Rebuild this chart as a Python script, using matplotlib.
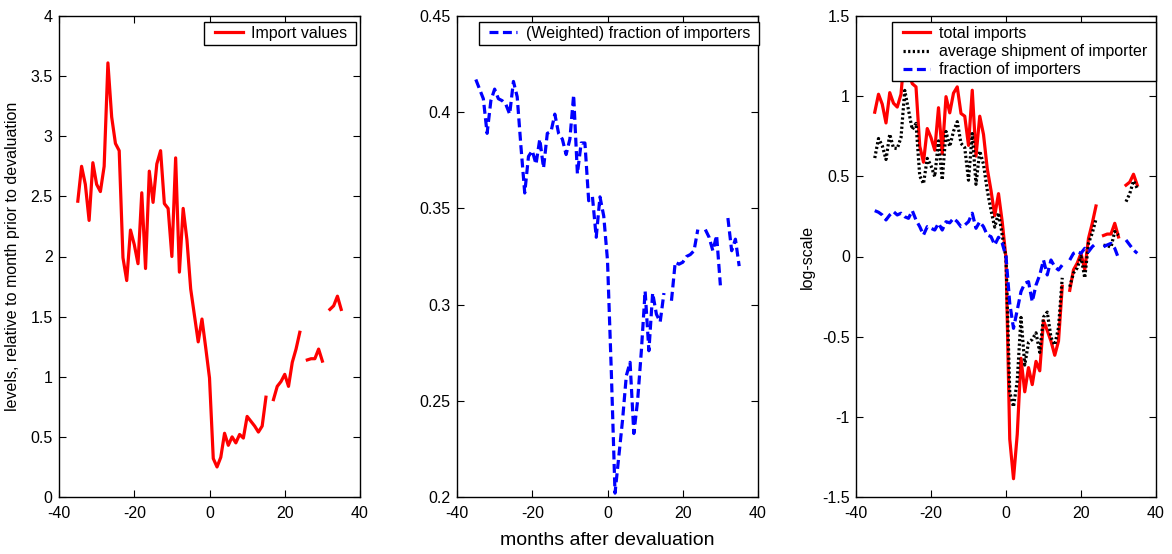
import numpy as np
import matplotlib
matplotlib.use("Agg")
import matplotlib.pyplot as plt
from matplotlib.ticker import FormatStrFormatter
from matplotlib.legend_handler import HandlerLine2D

plt.rcParams['font.family'] = ['Liberation Sans', 'DejaVu Sans']
plt.rcParams['axes.unicode_minus'] = False

nan = np.nan

# months relative to devaluation
months = list(range(-35, 36))

# panel 1: import values, relative to month prior to devaluation
import_values = [
    2.46, 2.75, 2.60, 2.30, 2.78, 2.60, 2.54, 2.75, 3.61, 3.16,
    2.94, 2.88, 1.99, 1.80, 2.22, 2.10, 1.94, 2.53, 1.90, 2.71,
    2.45, 2.77, 2.88, 2.44, 2.40, 2.00, 2.82, 1.87, 2.40, 2.14,
    1.73, 1.51, 1.29, 1.48, 1.24, 0.99, 0.32, 0.25, 0.33, 0.53,
    0.43, 0.50, 0.45, 0.52, 0.49, 0.67, 0.63, 0.59, 0.54, 0.59,
    0.83, nan, 0.81, 0.92, 0.96, 1.02, 0.92, 1.12, 1.23, 1.37,
    nan, 1.14, 1.15, 1.15, 1.23, 1.13, nan, 1.56, 1.59, 1.67,
    1.56,
]

# panel 2: (weighted) fraction of importers
weighted_fraction = [
    0.417, 0.412, 0.407, 0.389, 0.406, 0.412, 0.407, 0.406, 0.404, 0.399,
    0.416, 0.408, 0.382, 0.358, 0.377, 0.380, 0.373, 0.386, 0.371, 0.389,
    0.390, 0.399, 0.389, 0.386, 0.378, 0.386, 0.409, 0.368, 0.384, 0.384,
    0.354, 0.356, 0.335, 0.356, 0.346, 0.323, 0.266, 0.202, 0.221, 0.240,
    0.263, 0.270, 0.233, 0.250, 0.276, 0.307, 0.276, 0.306, 0.295, 0.291,
    0.306, nan, 0.302, 0.322, 0.321, 0.322, 0.325, 0.326, 0.328, 0.339,
    nan, 0.339, 0.335, 0.328, 0.336, 0.310, nan, 0.345, 0.328, 0.334,
    0.320,
]

# panel 3: log-scale decomposition
total_imports = [
    0.900, 1.012, 0.950, 0.833, 1.022, 0.956, 0.932, 1.012, 1.284, 1.151,
    1.078, 1.058, 0.688, 0.588, 0.798, 0.742, 0.663, 0.928, 0.642, 0.997,
    0.896, 1.019, 1.058, 0.892, 0.875, 0.693, 1.037, 0.626, 0.875, 0.761,
    0.548, 0.412, 0.255, 0.392, 0.215, -0.010, -1.139, -1.386, -1.109, -0.635,
    -0.844, -0.693, -0.799, -0.654, -0.713, -0.400, -0.462, -0.528, -0.616, -0.528,
    -0.186, nan, -0.211, -0.083, -0.041, 0.020, -0.083, 0.113, 0.207, 0.315,
    nan, 0.131, 0.140, 0.140, 0.207, 0.122, nan, 0.445, 0.464, 0.513,
    0.445,
]

avg_shipment = [
    0.614, 0.736, 0.691, 0.605, 0.763, 0.676, 0.673, 0.742, 1.036, 0.913,
    0.792, 0.830, 0.502, 0.454, 0.612, 0.566, 0.498, 0.721, 0.477, 0.780,
    0.686, 0.781, 0.841, 0.706, 0.679, 0.476, 0.767, 0.450, 0.658, 0.575,
    0.414, 0.288, 0.183, 0.272, 0.133, -0.010, -0.847, -0.938, -0.775, -0.380,
    -0.677, -0.536, -0.517, -0.476, -0.598, -0.378, -0.347, -0.506, -0.552, -0.444,
    -0.133, nan, -0.189, -0.103, -0.071, 0.000, -0.134, 0.083, 0.146, 0.233,
    nan, 0.070, 0.068, 0.058, 0.156, 0.133, nan, 0.342, 0.392, 0.472,
    0.425,
]

importer_fraction = [
    0.286, 0.276, 0.259, 0.228, 0.259, 0.280, 0.259, 0.270, 0.248, 0.238,
    0.286, 0.228, 0.186, 0.134, 0.186, 0.176, 0.165, 0.207, 0.165, 0.217,
    0.210, 0.238, 0.217, 0.186, 0.196, 0.217, 0.270, 0.176, 0.217, 0.186,
    0.134, 0.124, 0.072, 0.120, 0.082, 0.000, -0.292, -0.448, -0.334, -0.219,
    -0.167, -0.157, -0.282, -0.178, -0.115, -0.022, -0.115, -0.022, -0.064, -0.084,
    -0.053, nan, -0.022, 0.020, 0.030, 0.020, 0.051, 0.030, 0.061, 0.082,
    nan, 0.061, 0.072, 0.082, 0.051, -0.011, nan, 0.103, 0.072, 0.041,
    0.020,
]

FS = 11.5
DASH = (0, (2.8, 1.4))
DOT = (0, (0.7, 0.75))


def matlab_style(ax):
    ax.tick_params(direction='in', top=True, right=True, labelsize=FS,
                   length=5, width=0.8)
    ax.tick_params(axis='x', pad=6.5)
    ax.tick_params(axis='y', pad=4.5)
    for s in ax.spines.values():
        s.set_linewidth(1.0)
    ax.set_xlim(-40, 40)
    ax.set_xticks([-40, -20, 0, 20, 40])
    ax.yaxis.set_major_formatter(FormatStrFormatter('%g'))


W, H = 1172, 554
fig = plt.figure(figsize=(W / 100, H / 100), dpi=100)
ax1 = fig.add_axes([59 / W, (H - 497) / H, 301 / W, 481 / H])
ax2 = fig.add_axes([457 / W, (H - 497) / H, 301 / W, 481 / H])
ax3 = fig.add_axes([856 / W, (H - 497) / H, 300 / W, 481 / H])


def add_legend(ax, right_px):
    handles, labels = ax.get_legend_handles_labels()
    labels = [lab + ' ' for lab in labels]
    leg = ax.legend(handles, labels, loc='upper right',
                    bbox_to_anchor=(right_px / W, 1 - 22 / H),
                    bbox_transform=fig.transFigure, borderaxespad=0,
                    fancybox=False, framealpha=1, edgecolor='black', fontsize=FS,
                    numpoints=2, handlelength=2.55, borderpad=0.25,
                    labelspacing=0.2, handletextpad=0.15,
                    handler_map={h: HandlerLine2D(marker_pad=0.4) for h in handles})
    leg.get_frame().set_linewidth(1.0)
    return leg


# panel 1
ax1.plot(months, import_values, color='red', lw=2.3, label='Import values')
matlab_style(ax1)
ax1.set_ylim(0, 4)
ax1.set_yticks(np.arange(0, 4.01, 0.5))
ax1.set_ylabel('levels, relative to month prior to devaluation', fontsize=FS)
ax1.yaxis.set_label_coords((20 - 59) / 301, 0.5)
add_legend(ax1, 356)

# panel 2
ax2.plot(months, weighted_fraction, color='blue', lw=2.3, ls=DASH,
         label='(Weighted) fraction of importers')
matlab_style(ax2)
ax2.set_ylim(0.2, 0.45)
ax2.set_yticks(np.arange(0.2, 0.451, 0.05))
ax2.set_xlabel('months after devaluation', fontsize=14, labelpad=8)
add_legend(ax2, 759)

# panel 3
ax3.plot(months, total_imports, color='red', lw=2.3, label='total imports')
ax3.plot(months, avg_shipment, color='black', lw=2.3, ls=DOT,
         label='average shipment of importer')
ax3.plot(months, importer_fraction, color='blue', lw=2.3, ls=DASH,
         label='fraction of importers')
matlab_style(ax3)
ax3.set_ylim(-1.5, 1.5)
ax3.set_yticks(np.arange(-1.5, 1.51, 0.5))
ax3.set_ylabel('log-scale', fontsize=FS)
ax3.yaxis.set_label_coords((815 - 856) / 300, 0.5)
add_legend(ax3, 1156)

fig.savefig('out.png', dpi=100)
